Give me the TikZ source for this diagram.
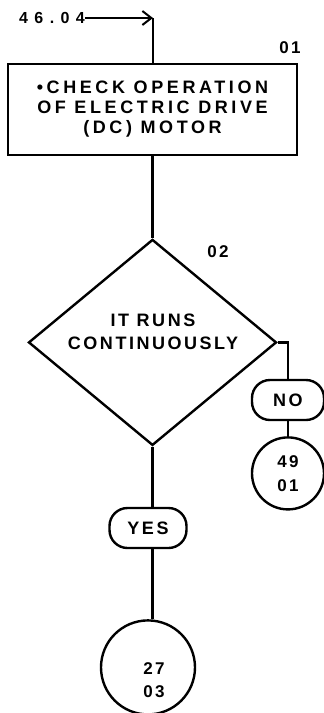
\documentclass[tikz,border=0pt]{standalone}
\usepackage{fontspec}
\setmainfont{Liberation Sans}
\newfontfamily\plotfont[LetterSpace=20]{Liberation Sans Bold}
\newfontfamily\plotbold[LetterSpace=14]{Liberation Sans Bold}
\newfontfamily\plotwide[LetterSpace=40]{Liberation Sans Bold}
\usetikzlibrary{positioning,arrows.meta,shapes.geometric}
\tikzset{
  stepbox/.style = {draw, line width=2.4pt, minimum width=289pt, minimum height=91pt,
                    align=center, inner sep=0pt, font=\plotfont\fontsize{18}{20}\selectfont},
  query/.style   = {diamond, draw, line width=2.4pt, minimum width=248pt, minimum height=206pt,
                    inner sep=0pt, align=center},
  answer/.style  = {draw, line width=2.4pt, rounded corners=18pt, minimum height=40pt,
                    inner sep=0pt, font=\plotbold\fontsize{18}{20}\selectfont},
  offpage/.style = {circle, draw, line width=2.4pt, inner sep=0pt, align=center,
                    font=\plotbold\fontsize{17}{24}\selectfont},
  tag/.style     = {inner sep=0pt, font=\plotbold\fontsize{17}{18}\selectfont},
  flow/.style    = {line width=2.4pt},
}
\begin{document}
\begin{tikzpicture}[x=1pt, y=-1pt]
  \useasboundingbox (0,0) rectangle (324,713);
  % entry reference and first step
  \node[tag, font=\plotwide\fontsize{16}{17}\selectfont, anchor=west] (from4604) at (19,18) {46.04};
  \coordinate (entry) at (153,18);
  \node[stepbox] (check) at (152.5,109.5)
       {\textbullet CHECK OPERATION\\ OF ELECTRIC DRIVE\\ (DC) MOTOR};
  \node[tag] (n01) at (290,48) {01};
  \draw[flow, -{Straight Barb[length=9pt, width=14pt, line width=2pt]}] (from4604.east) -- (entry);
  \draw[flow] (entry) -- (check.north -| entry);

  % decision
  \node[query, below=82pt of check] (runs) {};
  \node[tag, font=\plotbold\fontsize{18}{23}\selectfont, align=center] (runstext) at (153,332)
       {IT RUNS\\ CONTINUOUSLY};
  \node[tag] (n02) at (218,252) {02};
  \draw[flow] (check.south -| runs.north) -- (runs.north);

  % no branch
  \node[answer, minimum width=72pt] (no) at (288,400) {NO};
  \node[offpage, minimum size=72pt, below=15pt of no] (to4901) {49\\ 01};
  \draw[flow] (runs.east) -| (no.north);
  \draw[flow] (no) -- (to4901);

  % yes branch
  \node[answer, minimum width=77pt] (yes) at (148,528) {YES};
  \node[offpage, minimum size=94pt, below=70pt of yes,
        label={[tag, font=\plotbold\fontsize{17}{23}\selectfont, align=center,
                shift={(6pt,-13pt)}]center:27\\ 03}] (to2703) {};
  \draw[flow] (runs.south) -- (runs.south |- yes.north);
  \draw[flow] (yes.south -| runs.south) -- (to2703.north -| runs.south);
\end{tikzpicture}
\end{document}
